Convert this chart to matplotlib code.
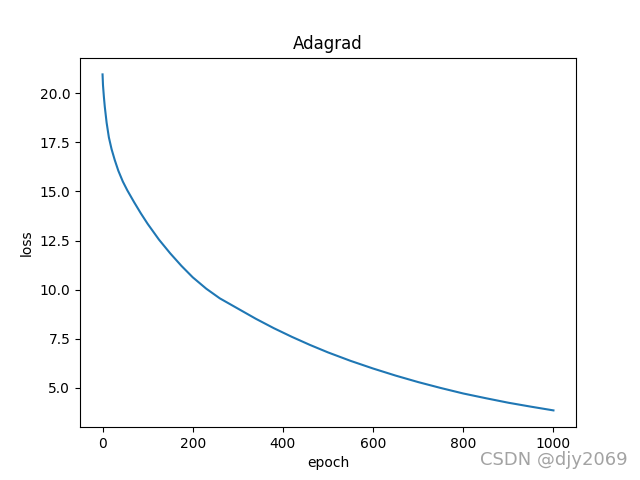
import matplotlib
matplotlib.use("Agg")
import matplotlib.pyplot as plt

# loss values
epochs = [0, 1, 3, 5, 9, 14, 20, 27, 35, 45, 55, 70, 85, 100, 125, 150,
          175, 200, 230, 260, 300, 340, 380, 420, 460, 500, 550, 600,
          650, 700, 750, 800, 850, 900, 950, 1000]
loss = [20.95, 20.4, 19.8, 19.3, 18.5, 17.75, 17.15, 16.6, 16.05, 15.5,
        15.05, 14.45, 13.88, 13.35, 12.55, 11.85, 11.21, 10.63, 10.05,
        9.56, 9.04, 8.52, 8.04, 7.6, 7.19, 6.81, 6.38, 5.99, 5.63, 5.3,
        5.0, 4.72, 4.48, 4.25, 4.05, 3.86]

fig = plt.figure(figsize=(6.4, 4.8), dpi=100)
plt.plot(epochs, loss)
plt.title("Adagrad")
plt.xlabel("epoch")
plt.ylabel("loss")

# watermark
fig.text(0.980, 0.031, "CSDN @djy2069", ha="right", va="baseline",
         fontsize=13, color="#a3a3a3")

plt.savefig("out.png", dpi=100)
